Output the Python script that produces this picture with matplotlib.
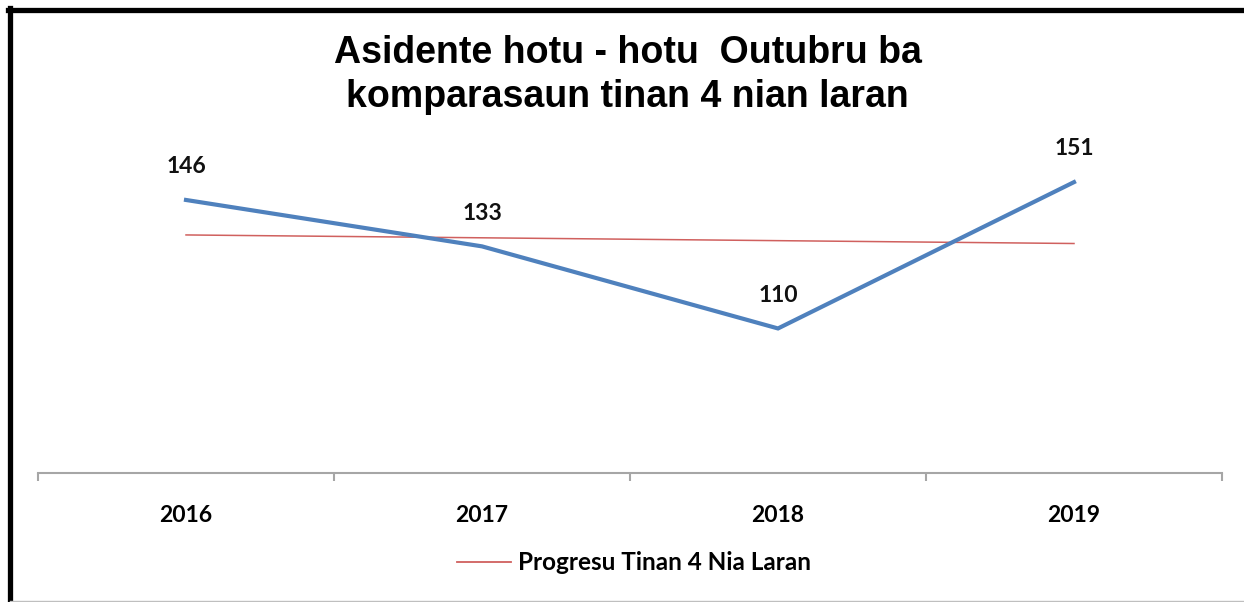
import numpy as np
import matplotlib.pyplot as plt
from matplotlib.lines import Line2D

# data
years = ["2016", "2017", "2018", "2019"]
accidents = [146, 133, 110, 151]
title = "Asidente hotu - hotu  Outubru ba\nkomparasaun tinan 4 nian laran"
trend_label = "Progresu Tinan 4 Nia Laran"

W, H = 1244, 602
fig = plt.figure(figsize=(W / 100, H / 100), dpi=100)

# plot area in pixel terms
left, right, bottom, top = 38, 1222, 473, 150
ax = fig.add_axes([left / W, 1 - bottom / H, (right - left) / W, (bottom - top) / H])

x = np.arange(len(years))
ax.plot(x, accidents, color="#4F81BD", lw=3.0, solid_joinstyle="miter", zorder=3)

# linear trendline
k, b = np.polyfit(x, accidents, 1)
ax.plot(x, k * x + b, color="#D0605E", lw=1.1, zorder=2, label=trend_label)

for xi, v in zip(x, accidents):
    ax.annotate(str(v), (xi, v), xytext=(0, 24), textcoords="offset points",
                ha="center", va="center", fontsize=16.5, fontweight="bold",
                family="Lato", color="#111111")

ax.set_xlim(-0.5, len(years) - 0.5)
ax.set_ylim(69.5, 160)
ax.set_yticks([])
for s in ["top", "right", "left"]:
    ax.spines[s].set_visible(False)
ax.spines["bottom"].set_color("#A6A6A6")
ax.spines["bottom"].set_linewidth(1.5)
ax.set_xticks(np.arange(len(years) + 1) - 0.5)
ax.set_xticklabels([])
ax.set_xticks(x, minor=True)
ax.set_xticklabels(years, minor=True, fontsize=16.5, fontweight="bold", family="Lato")
ax.tick_params(axis="x", which="major", length=6, width=1.5, color="#A6A6A6", direction="out")
ax.tick_params(axis="x", which="minor", length=0, pad=23)

fig.text(0.5 * (335 + 920) / W, 1 - 75 / H, title, ha="center", va="center",
         fontsize=27, fontweight="bold", family="Liberation Sans", linespacing=1.3)

leg = fig.legend(handles=[Line2D([], [], color="#D0605E", lw=1.3)], labels=[trend_label],
                 loc="center", bbox_to_anchor=(634 / W, 1 - 563 / H), frameon=False,
                 handlelength=2.2, handletextpad=0.3,
                 prop={"family": "Lato", "weight": "bold", "size": 17.5})

# frame around the chart
fig.add_artist(Line2D([8 / W, 1], [1 - 9.5 / H, 1 - 9.5 / H], color="black", lw=3.8))
fig.add_artist(Line2D([10 / W, 10 / W], [0, 1 - 8 / H], color="black", lw=3.8))
fig.add_artist(Line2D([10 / W, 1], [1 / H, 1 / H], color="#BFBFBF", lw=1))

fig.savefig("out.png", dpi=100)
